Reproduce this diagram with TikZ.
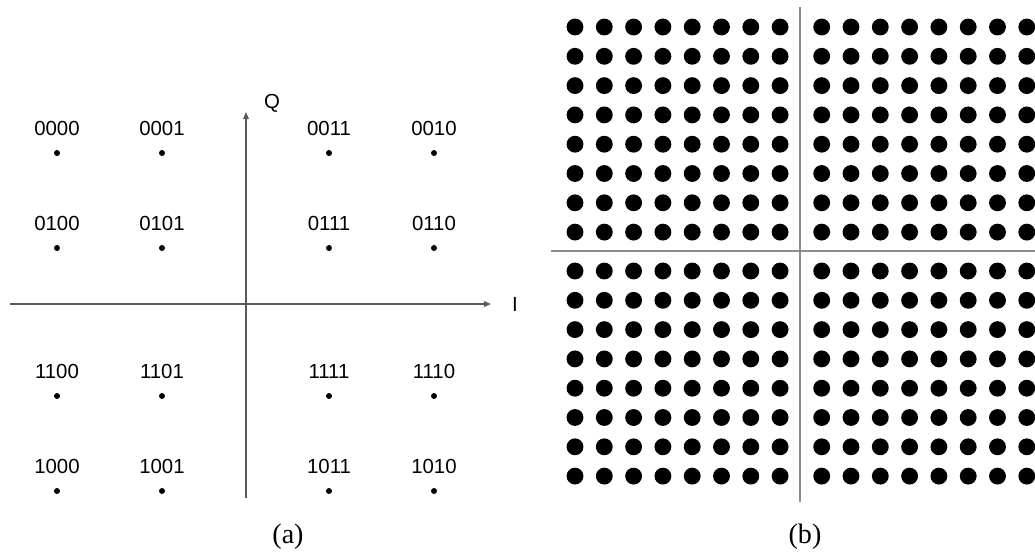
\documentclass[tikz,border=0pt]{standalone}
\usepackage{fontspec}
\setmainfont{Liberation Serif}
\newfontfamily\bitsfont{Liberation Sans}
\usetikzlibrary{positioning,arrows.meta}

\begin{document}
\begin{tikzpicture}[x=0.02cm,y=-0.02cm,
  qdot/.style={circle,fill=black,inner sep=0pt,minimum size=3.4pt},
  bigdot/.style={circle,fill=black,inner sep=0pt,minimum size=9.6pt},
  bits/.style={font=\bitsfont\fontsize{11.6}{13}\selectfont,inner sep=0pt},
  axislab/.style={font=\bitsfont\fontsize{11.6}{13}\selectfont,inner sep=0pt},
  caption/.style={font=\fontsize{16}{18}\selectfont,inner sep=0pt},
  node distance=8pt]
\definecolor{axisGrey}{HTML}{5A5A5A}
\definecolor{gridGrey}{HTML}{8C8C8C}
\useasboundingbox (0,0) rectangle (1035,556);
% (a) 16-QAM with Gray labels
\coordinate (iLeft) at (10,304);
\coordinate (iRight) at (491,304);
\coordinate (qBottom) at (246,498);
\coordinate (qTop) at (246,112);
\draw[axisGrey,line width=0.6pt,-{Triangle[length=4pt,width=3.2pt]}] (iLeft) -- (iRight);
\draw[axisGrey,line width=0.6pt,-{Triangle[length=4pt,width=3.2pt]}] (qBottom) -- (qTop);
\node[axislab] (qlab) at (272,103) {Q};
\node[axislab] (ilab) at (515,304) {I};
\foreach \lab/\x/\y in {0000/57/153,0001/162/153,0011/329/153,0010/434/153,
                        0100/57/248,0101/162/248,0111/329/248,0110/434/248,
                        1100/57/396,1101/162/396,1111/329/396,1110/434/396,
                        1000/57/491,1001/162/491,1011/329/491,1010/434/491} {
  \node[qdot] (p\lab) at (\x,\y) {};
  \node[bits,above=of p\lab] (t\lab) {\lab};
}
\node[caption] (capa) at (288,537) {(a)};
% (b) 256-QAM
\coordinate (hLeft) at (551,251);
\coordinate (hRight) at (1035,251);
\coordinate (vTop) at (800,7);
\coordinate (vBottom) at (800,502);
\draw[gridGrey,line width=1.1pt] (hLeft) -- (hRight);
\draw[gridGrey,line width=1.1pt] (vTop) -- (vBottom);
\foreach \i in {0,...,15} {
  \foreach \j in {0,...,15} {
    \pgfmathsetmacro\dx{575+29.3*\i+(\i>7)*12.3}
    \pgfmathsetmacro\dy{27+29.3*\j+(\j>7)*9.6}
    \node[bigdot] (s-\i-\j) at (\dx,\dy) {};
  }
}
\node[caption] (capb) at (805,537) {(b)};
\end{tikzpicture}
\end{document}
